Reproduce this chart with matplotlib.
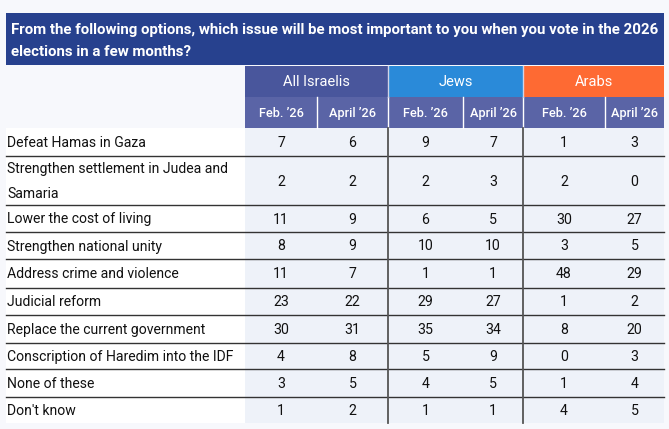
import matplotlib
matplotlib.use("Agg")
import matplotlib.pyplot as plt
from matplotlib.patches import Rectangle

plt.rcParams['font.family'] = ['Roboto', 'DejaVu Sans']

# data
title_lines = ["From the following options, which issue will be most important to you when you vote in the 2026",
               "elections in a few months?"]
groups = ["All Israelis", "Jews", "Arabs"]
group_colors = ["#49569c", "#2a8ad9", "#fe6a33"]
periods = ["Feb. \u201926", "April \u201926"]
issues = ["Defeat Hamas in Gaza",
          "Strengthen settlement in Judea and\nSamaria",
          "Lower the cost of living",
          "Strengthen national unity",
          "Address crime and violence",
          "Judicial reform",
          "Replace the current government",
          "Conscription of Haredim into the IDF",
          "None of these",
          "Don't know"]
all_feb = [7, 2, 11, 8, 11, 23, 30, 4, 3, 1]
all_apr = [6, 2, 9, 9, 7, 22, 31, 8, 5, 2]
jews_feb = [9, 2, 6, 10, 1, 29, 35, 5, 4, 1]
jews_apr = [7, 3, 5, 10, 1, 27, 34, 9, 5, 1]
arabs_feb = [1, 2, 30, 3, 48, 1, 8, 0, 1, 4]
arabs_apr = [3, 0, 27, 5, 29, 2, 20, 3, 4, 5]
columns = [all_feb, all_apr, jews_feb, jews_apr, arabs_feb, arabs_apr]

# layout (pixels)
W, H = 669, 429
left, right = 6, 664
col_edges = [245, 317, 388, 463, 523, 605, 664]
row_edges = [128, 156, 205, 232, 259, 288, 315, 343, 369, 397, 423]
title_top, title_bot = 13, 65
grp_top, grp_bot = 66, 97

fig = plt.figure(figsize=(W / 100, H / 100), dpi=100, facecolor="#f7f8fc")
ax = fig.add_axes([0, 0, 1, 1])
ax.set_xlim(0, W)
ax.set_ylim(H, 0)
ax.axis("off")

# title bar
ax.add_patch(Rectangle((left, title_top), right - left, title_bot - title_top, color="#27418e", lw=0))
t1 = ax.text(11, 30, title_lines[0], color="white", fontsize=11, fontweight="bold", va="center", ha="left")
fig.canvas.draw()
w = t1.get_window_extent().width
fs = 11 * 646 / w
t1.set_fontsize(fs)
ax.text(11, 52, title_lines[1], color="white", fontsize=fs, fontweight="bold", va="center", ha="left")

# group header
for g in range(3):
    x0, x1 = col_edges[2 * g], col_edges[2 * g + 2]
    ax.add_patch(Rectangle((x0, grp_top), x1 - x0, grp_bot - grp_top, color=group_colors[g], lw=0))
    ax.text((x0 + x1) / 2, (grp_top + grp_bot) / 2 + 1, groups[g], color="white", fontsize=10.5,
            ha="center", va="center")

# sub header
for c in range(6):
    x0, x1 = col_edges[c], col_edges[c + 1]
    ax.add_patch(Rectangle((x0, grp_bot), x1 - x0, row_edges[0] - grp_bot, color="#5a64a6", lw=0))
    ax.text((x0 + x1) / 2, (grp_bot + row_edges[0]) / 2 + 1, periods[c % 2], color="white",
            fontsize=9.2, fontweight="medium", ha="center", va="center")
    if c > 0:
        ax.plot([x0, x0], [grp_bot, row_edges[0]], color="white", lw=1)
for g in range(1, 3):
    x = col_edges[2 * g]
    ax.plot([x, x], [grp_top, grp_bot], color="#d0d4e8", lw=1)

# body
ax.add_patch(Rectangle((left, row_edges[0]), right - left, row_edges[-1] - row_edges[0], color="white", lw=0))
ax.add_patch(Rectangle((col_edges[0], row_edges[0]), right - col_edges[0], row_edges[-1] - row_edges[0],
                       color="#eef2f9", lw=0))

for i, issue in enumerate(issues):
    yc = (row_edges[i] + row_edges[i + 1]) / 2 + 1
    ax.text(7, yc, issue, fontsize=10.1, color="#111111", ha="left", va="center", linespacing=2.0)
    for c in range(6):
        xc = (col_edges[c] + col_edges[c + 1]) / 2
        ax.text(xc, yc, str(columns[c][i]), fontsize=10.2, color="#111111", ha="center", va="center")
    if i < len(issues) - 1:
        ax.plot([left, right], [row_edges[i + 1], row_edges[i + 1]], color="#333333", lw=1)

for g in range(1, 3):
    x = col_edges[2 * g]
    ax.plot([x, x], [row_edges[0], row_edges[-1]], color="#555555", lw=1.3)

fig.savefig("out.png", dpi=100, facecolor=fig.get_facecolor())
